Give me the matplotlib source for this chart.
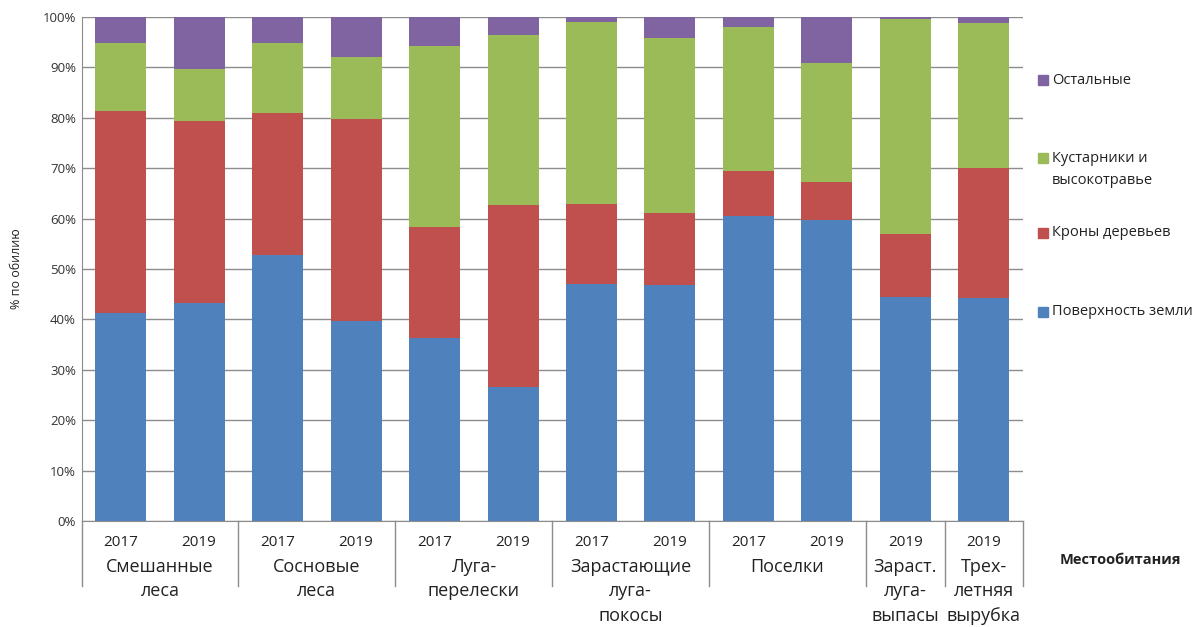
import numpy as np
import matplotlib
matplotlib.use("Agg")
import matplotlib.pyplot as plt
from matplotlib.patches import Rectangle

plt.rcParams['font.family'] = ['Open Sans', 'DejaVu Sans']

years = ['2017', '2019', '2017', '2019', '2017', '2019', '2017', '2019',
         '2017', '2019', '2019', '2019']
groups = ['Смешанные\nлеса', 'Сосновые\nлеса', 'Луга-\nперелески',
          'Зарастающие\nлуга-\nпокосы', 'Поселки', 'Зараст.\nлуга-\nвыпасы',
          'Трех-\nлетняя\nвырубка']
group_sizes = [2, 2, 2, 2, 2, 1, 1]

# shares in %, bottom to top
ground = [41.2, 43.3, 52.8, 39.7, 36.4, 26.5, 47.0, 46.8, 60.5, 59.7, 44.5, 44.2]
crowns = [40.2, 36.1, 28.1, 40.0, 22.0, 36.2, 15.9, 14.4, 9.0, 7.6, 12.4, 25.9]
shrubs = [13.5, 10.2, 14.0, 12.3, 35.9, 33.7, 36.2, 34.6, 28.5, 23.5, 42.7, 28.7]
others = [5.1, 10.4, 5.1, 8.0, 5.7, 3.6, 0.9, 4.2, 2.0, 9.2, 0.4, 1.2]

series = [('Поверхность земли', ground, '#4F81BD'),
          ('Кроны деревьев', crowns, '#C0504D'),
          ('Кустарники и\nвысокотравье', shrubs, '#9BBB59'),
          ('Остальные', others, '#8064A2')]

fig = plt.figure(figsize=(12, 6.27), dpi=100)
ax = fig.add_axes([81.5 / 1200, 1 - 521 / 627, (1023 - 81.5) / 1200, 504 / 627])

x = np.arange(len(years))
bottom = np.zeros(len(years))
for name, vals, col in series:
    ax.bar(x, vals, 0.65, bottom=bottom, color=col, zorder=2)
    bottom += np.array(vals)

ax.set_xlim(-0.5, len(years) - 0.5)
ax.set_ylim(0, 100)
ax.set_yticks(np.arange(0, 101, 10))
ax.set_yticklabels([f'{v}%' for v in range(0, 101, 10)], fontsize=9.5, color='#333333')
ax.yaxis.grid(True, color='#8c8c8c', linewidth=1, zorder=0)
ax.set_axisbelow(True)
for s in ['top', 'right']:
    ax.spines[s].set_visible(False)
ax.spines['left'].set_color('#8c8c8c')
ax.spines['bottom'].set_color('#8c8c8c')
ax.tick_params(axis='y', length=0, pad=4)
ax.tick_params(axis='x', length=0, pad=0)
ax.set_xticks(x)
ax.set_xticklabels([])

px = 1 / 504  # one pixel in axes fraction (vertical)
tr = ax.get_xaxis_transform()
for xi, yr in zip(x, years):
    ax.text(xi, -22 * px, yr, transform=tr, ha='center', va='center',
            fontsize=11, color='#222222')

# group labels and separators
edge = -0.5
ax.plot([edge, edge], [0, -65 * px], transform=tr, color='#8c8c8c', lw=1, clip_on=False)
for g, n in zip(groups, group_sizes):
    mid = edge + n / 2
    for k, line in enumerate(g.split('\n')):
        ax.text(mid, -(46 + k * 24.5) * px, line, transform=tr, ha='center',
                va='center', fontsize=13, color='#222222')
    edge += n
    ax.plot([edge, edge], [0, -65 * px], transform=tr, color='#8c8c8c', lw=1, clip_on=False)

ax.set_ylabel('% по обилию', fontsize=9, labelpad=14, color='#222222')

# legend on the right
leg_y = {'Остальные': [80], 'Кустарники и\nвысокотравье': [158, 181],
         'Кроны деревьев': [233], 'Поверхность земли': [312]}
for name, vals, col in series:
    ys = leg_y[name]
    fig.patches.append(Rectangle((1038 / 1200, 1 - (ys[0] + 5) / 627), 10 / 1200, 10 / 627,
                                 transform=fig.transFigure, color=col))
    for yy, line in zip(ys, name.split('\n')):
        fig.text(1052 / 1200, 1 - yy / 627, line, ha='left', va='center',
                 fontsize=10.5, color='#222222')

fig.text(1120 / 1200, 1 - 560 / 627, 'Местообитания', ha='center', va='center',
         fontsize=10.5, fontweight='bold', color='#222222')

fig.savefig('out.png', dpi=100)
